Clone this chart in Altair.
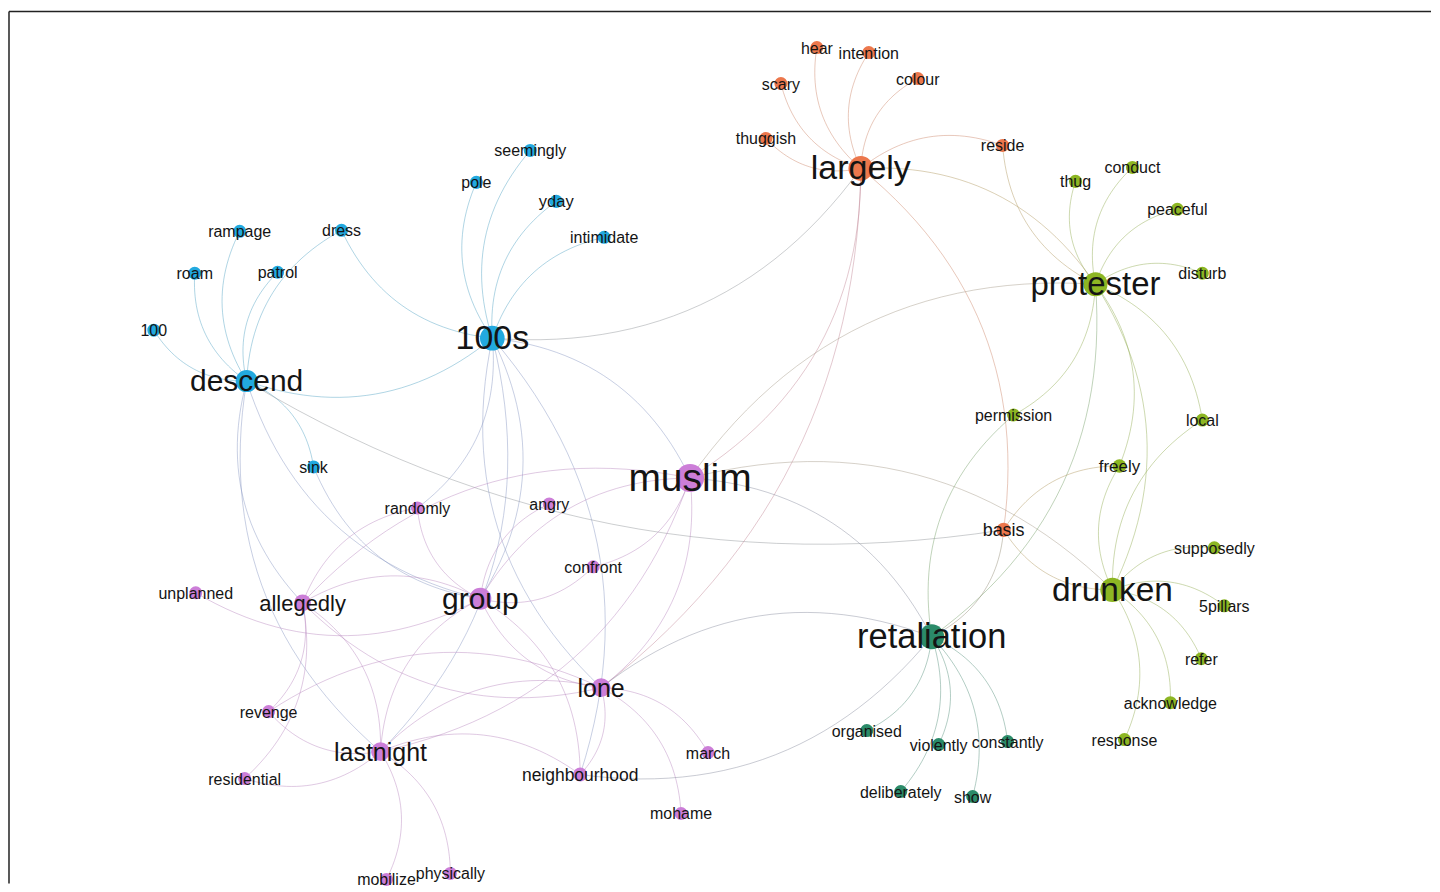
import math
import altair as alt
import pandas as pd

# ---------------- data ----------------
NODE_NAMES = [
    # blue community
    "100s", "descend", "seemingly", "pole", "yday", "intimidate", "rampage", "dress",
    "roam", "patrol", "100", "sink",
    # orange community
    "largely", "hear", "intention", "scary", "colour", "thuggish", "reside", "basis",
    # green community
    "protester", "thug", "conduct", "peaceful", "disturb", "permission", "local", "freely",
    "drunken", "supposedly", "5pillars", "refer", "acknowledge", "response",
    # purple community
    "muslim", "randomly", "angry", "confront", "unplanned", "allegedly", "group", "lone",
    "revenge", "lastnight", "residential", "neighbourhood", "march", "mohame", "mobilize", "physically",
    # teal community
    "retaliation", "organised", "violently", "constantly", "deliberately", "show",
]
NODE_X = [
    492, 246, 530, 476, 556, 604, 239, 341, 194, 277, 153, 313,
    861, 817, 869, 781, 918, 766, 1003, 1004,
    1096, 1076, 1133, 1178, 1203, 1014, 1203, 1120, 1113, 1215, 1225, 1202, 1171, 1125,
    690, 417, 549, 593, 195, 302, 480, 601, 268, 380, 244, 580, 708, 681, 386, 450,
    932, 867, 939, 1008, 901, 973,
]
NODE_Y = [
    338, 381, 150, 182, 201, 237, 231, 230, 273, 272, 330, 467,
    168, 47, 52, 83, 78, 138, 145, 530,
    284, 181, 167, 209, 273, 415, 420, 466, 590, 548, 606, 659, 703, 740,
    478, 508, 504, 567, 593, 603, 599, 688, 712, 752, 779, 775, 753, 814, 880, 874,
    637, 731, 745, 742, 792, 797,
]
NODE_COMMUNITY = (
    ["blue"] * 12 + ["orange"] * 8 + ["green"] * 14 + ["purple"] * 16 + ["teal"] * 6
)
# node weight
NODE_WEIGHT = [
    34, 30, 16, 16, 16.5, 16, 16, 16, 16, 16, 16, 16,
    34, 16, 16, 16, 16, 16, 16, 18,
    33, 16, 16, 16, 16, 16, 16, 17, 33.5, 16, 16, 16, 16, 16,
    39, 16, 16, 16, 16, 22, 30, 25, 16, 25, 16, 17.5, 16, 16, 16, 16,
    34.5, 16, 16, 16, 16, 16,
]

COMMUNITY_NAMES = ["blue", "orange", "green", "purple", "teal"]
COMMUNITY_COLORS = ["#22a9df", "#ec774c", "#8db623", "#cc7ed8", "#2b8b69"]

EDGES = [
    # blue
    ("seemingly", "100s"), ("pole", "100s"), ("yday", "100s"), ("intimidate", "100s"),
    ("dress", "100s"), ("dress", "descend"), ("patrol", "descend"), ("rampage", "descend"),
    ("roam", "descend"), ("100", "descend"), ("descend", "100s"), ("sink", "descend"),
    ("descend", "group"), ("descend", "lastnight"), ("descend", "basis"), ("descend", "allegedly"),
    ("randomly", "100s"), ("group", "100s"), ("100s", "lone"), ("neighbourhood", "100s"),
    ("lastnight", "100s"), ("muslim", "100s"), ("100s", "largely"), ("sink", "group"),
    # orange
    ("hear", "largely"), ("intention", "largely"), ("scary", "largely"), ("colour", "largely"),
    ("thuggish", "largely"), ("reside", "largely"), ("protester", "largely"), ("basis", "largely"),
    ("muslim", "largely"), ("lone", "largely"),
    # purple
    ("randomly", "allegedly"), ("randomly", "group"), ("unplanned", "group"), ("group", "allegedly"),
    ("revenge", "allegedly"), ("residential", "allegedly"), ("lastnight", "allegedly"),
    ("allegedly", "lone"), ("muslim", "allegedly"),
    ("revenge", "lastnight"), ("lone", "revenge"), ("residential", "lastnight"),
    ("mobilize", "lastnight"), ("physically", "lastnight"), ("group", "lastnight"),
    ("lone", "lastnight"), ("neighbourhood", "lastnight"), ("lastnight", "muslim"),
    ("group", "lone"), ("neighbourhood", "group"), ("angry", "group"), ("group", "confront"),
    ("muslim", "group"), ("confront", "muslim"), ("lone", "muslim"),
    ("march", "lone"), ("mohame", "lone"), ("neighbourhood", "lone"),
    # between communities
    ("retaliation", "lone"), ("neighbourhood", "retaliation"), ("retaliation", "muslim"),
    ("drunken", "muslim"), ("protester", "muslim"),
    # green
    ("thug", "protester"), ("conduct", "protester"), ("peaceful", "protester"),
    ("disturb", "protester"), ("reside", "protester"), ("local", "protester"),
    ("permission", "protester"), ("freely", "protester"), ("retaliation", "protester"),
    ("drunken", "protester"), ("freely", "drunken"), ("local", "drunken"), ("freely", "basis"),
    ("permission", "retaliation"), ("basis", "drunken"), ("retaliation", "basis"),
    ("supposedly", "drunken"), ("5pillars", "drunken"), ("refer", "drunken"),
    ("acknowledge", "drunken"), ("response", "drunken"),
    # teal
    ("organised", "retaliation"), ("violently", "retaliation"), ("constantly", "retaliation"),
    ("deliberately", "retaliation"), ("show", "retaliation"),
]

# ---------------- tables ----------------
BEND = 0.28        # clockwise curvature of the edges
MAX_DEPTH = 70     # long edges are bent less
STEPS = 28
W, H = 1424, 876

nodes = pd.DataFrame({
    "name": NODE_NAMES, "x": NODE_X, "y": NODE_Y,
    "community": NODE_COMMUNITY, "weight": NODE_WEIGHT,
})
pos = {n: (x, y) for n, x, y in zip(NODE_NAMES, NODE_X, NODE_Y)}
col = {n: COMMUNITY_COLORS[COMMUNITY_NAMES.index(c)] for n, c in zip(NODE_NAMES, NODE_COMMUNITY)}


def rgb(c):
    return [int(c[i:i + 2], 16) for i in (1, 3, 5)]


def edge_color(c1, c2):
    a, b, g = rgb(c1), rgb(c2), [150, 150, 150]
    m = [(p + q) / 2 for p, q in zip(a, b)]
    m = [0.62 * p + 0.38 * r for p, r in zip(m, g)]
    return "#" + "".join(f"{int(round(v)):02x}" for v in m)


rows = []
for k, (a, b) in enumerate(EDGES):
    x0, y0 = pos[a]
    x2, y2 = pos[b]
    dx, dy = x2 - x0, y2 - y0
    L = math.hypot(dx, dy)
    bend = min(BEND, 2 * MAX_DEPTH / L)
    cx = (x0 + x2) / 2 - bend * dy
    cy = (y0 + y2) / 2 + bend * dx
    c = edge_color(col[a], col[b])
    for s in range(STEPS + 1):
        t = s / STEPS
        u = 1 - t
        rows.append({
            "edge": k, "t": t, "color": c,
            "x": u * u * x0 + 2 * u * t * cx + t * t * x2,
            "y": u * u * y0 + 2 * u * t * cy + t * t * y2,
        })
edges = pd.DataFrame(rows)

xs = alt.Scale(domain=[8, 8 + W], nice=False, zero=False)
ys = alt.Scale(domain=[8, 8 + H], nice=False, zero=False, reverse=True)

edge_layer = alt.Chart(edges).mark_line(strokeWidth=1, opacity=0.45, interpolate="linear").encode(
    x=alt.X("x:Q", scale=xs, axis=None),
    y=alt.Y("y:Q", scale=ys, axis=None),
    detail="edge:N",
    order="t:Q",
    color=alt.Color("color:N", scale=None),
)

node_layer = alt.Chart(nodes).mark_circle(opacity=1, stroke=None).encode(
    x=alt.X("x:Q", scale=xs, axis=None),
    y=alt.Y("y:Q", scale=ys, axis=None),
    size=alt.Size("weight:Q", scale=alt.Scale(type="pow", exponent=2, domain=[16, 39], range=[170, 790]), legend=None),
    color=alt.Color("community:N", scale=alt.Scale(domain=COMMUNITY_NAMES, range=COMMUNITY_COLORS), legend=None),
)

label_layer = alt.Chart(nodes).mark_text(
    font="Liberation Sans", color="#141414", align="center", baseline="middle", dy=1
).encode(
    x=alt.X("x:Q", scale=xs, axis=None),
    y=alt.Y("y:Q", scale=ys, axis=None),
    text="name:N",
    size=alt.Size("weight:Q", scale=None),
)

frame = pd.DataFrame({"k": [0]})
top_rule = alt.Chart(frame).mark_rule(color="#222222", strokeWidth=1.5).encode(
    x=alt.value(0), x2=alt.value(W), y=alt.value(3)
)
left_rule = alt.Chart(frame).mark_rule(color="#222222", strokeWidth=1.5).encode(
    x=alt.value(0), y=alt.value(3), y2=alt.value(H)
)

chart = alt.layer(top_rule, left_rule, edge_layer, node_layer, label_layer).properties(
    width=W, height=H, padding=0, background="white"
).configure_view(stroke=None)

chart.save("out.html", embed_options={"renderer": "svg", "actions": False})
